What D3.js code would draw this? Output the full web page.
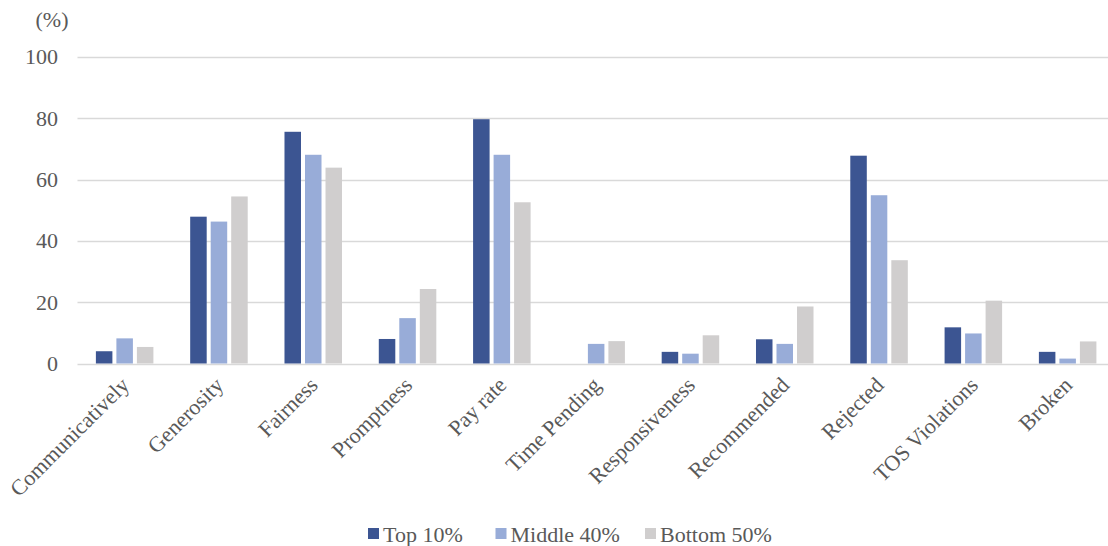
<!DOCTYPE html>
<html>
<head>
<meta charset="utf-8">
<script src="https://cdn.jsdelivr.net/npm/d3@7"></script>
<style>
  html, body { margin: 0; padding: 0; background: #fff; }
  svg { display: block; }
  text { font-family: "Liberation Serif", "Times New Roman", serif; fill: #595959; }
</style>
</head>
<body>
<div id="chart"></div>
<script>
// Share of ratings mentioning each attribute, by requester group (%)
const categories = ["Communicatively", "Generosity", "Fairness", "Promptness", "Pay rate",
  "Time Pending", "Responsiveness", "Recommended", "Rejected", "TOS Violations", "Broken"];
const seriesNames = ["Top 10%", "Middle 40%", "Bottom 50%"];
const top10    = [4.0, 47.9, 75.6, 8.0, 79.7, 0.0, 3.8, 7.9, 67.8, 11.8, 3.8];
const middle40 = [8.2, 46.3, 68.1, 14.8, 68.1, 6.4, 3.2, 6.4, 54.9, 9.8, 1.6];
const bottom50 = [5.4, 54.5, 63.9, 24.3, 52.6, 7.3, 9.2, 18.6, 33.7, 20.5, 7.2];
const yTicks = [0, 20, 40, 60, 80, 100];
const colors = ["#3c5592", "#98acd8", "#d0cece"];

const W = 1108, H = 546;
const plot = { left: 77.5, right: 1114.8, top: 57, bottom: 363.5 };
const fontSize = 22;

const svg = d3.select("#chart").append("svg")
  .attr("width", W).attr("height", H);

const x = d3.scaleBand().domain(categories)
  .range([plot.left, plot.right]).paddingInner(0.39).paddingOuter(0.195);
const xs = d3.scaleBand().domain(seriesNames)
  .range([0, x.bandwidth()]).paddingInner(0.195);
const y = d3.scaleLinear().domain([0, 100]).range([plot.bottom, plot.top]);

// horizontal gridlines
svg.append("g").selectAll("line").data(yTicks).join("line")
  .attr("x1", plot.left).attr("x2", W)
  .attr("y1", d => Math.round(y(d)) + 0.5).attr("y2", d => Math.round(y(d)) + 0.5)
  .attr("stroke", "#d9d9d9").attr("stroke-width", 1.3);

// y-axis labels
svg.append("g").selectAll("text").data(yTicks).join("text")
  .attr("x", 58).attr("y", d => y(d)).attr("dy", "0.34em")
  .attr("text-anchor", "end").attr("font-size", fontSize)
  .text(d => d);

svg.append("text").attr("x", 52).attr("y", 27).attr("text-anchor", "middle")
  .attr("font-size", fontSize).text("(%)");

// bars
const table = categories.map((c, i) => ({ cat: c, vals: [top10[i], middle40[i], bottom50[i]] }));
const groups = svg.append("g").selectAll("g").data(table).join("g")
  .attr("transform", d => `translate(${x(d.cat)},0)`);
groups.selectAll("rect")
  .data(d => d.vals.map((v, k) => ({ name: seriesNames[k], v, k })))
  .join("rect")
  .attr("x", d => xs(d.name))
  .attr("width", xs.bandwidth())
  .attr("y", d => y(d.v))
  .attr("height", d => y(0) - y(d.v))
  .attr("fill", d => colors[d.k]);

// category labels, rotated
const xAxis = svg.append("g").attr("transform", `translate(0,${plot.bottom})`)
  .call(d3.axisBottom(x).tickSize(0).tickPadding(0));
xAxis.select(".domain").remove();
xAxis.selectAll("text")
  .attr("font-size", fontSize).attr("fill", "#595959")
  .style("font-family", '"Liberation Serif", serif')
  .attr("text-anchor", "end")
  .attr("dy", "0.7em")
  .attr("transform", "translate(-5,12) rotate(-45)");

// legend
const legendX = [368, 495.5, 645];
const legend = svg.append("g").selectAll("g").data(seriesNames).join("g")
  .attr("transform", (d, i) => `translate(${legendX[i]},534)`);
legend.append("rect").attr("x", 0).attr("y", -6).attr("width", 11).attr("height", 11)
  .attr("fill", (d, i) => colors[i]);
legend.append("text").attr("x", 15).attr("y", 0).attr("dy", "0.35em")
  .attr("font-size", fontSize).text(d => d);
</script>
</body>
</html>
